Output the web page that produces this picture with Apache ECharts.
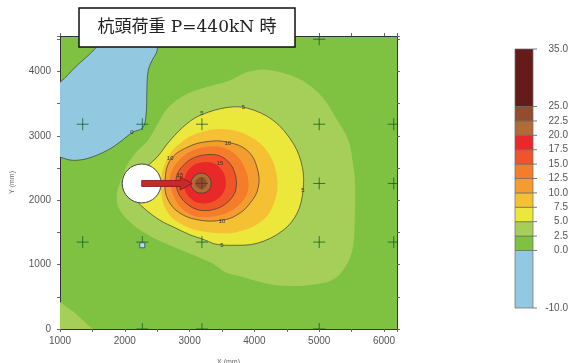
<!DOCTYPE html>
<html>
<head>
<meta charset="utf-8">
<script src="https://cdn.jsdelivr.net/npm/echarts@6/dist/echarts.min.js"></script>
<style>
  html, body { margin: 0; padding: 0; background: #fff; }
  #chart { width: 571px; height: 363px; }
</style>
</head>
<body>
<div id="chart"></div>
<script>
// contour levels and the colour of each band between them
const levels = [-10, 0, 2.5, 5, 7.5, 10, 12.5, 15, 17.5, 20, 22.5, 25, 35];
const bandColors = ['#93c9e0', '#7fc241', '#a5cf59', '#ece83b', '#f6c034', '#f59c31',
  '#f47d2c', '#f05529', '#e9282a', '#b26a37', '#934c2e', '#661b1b'];

// contour outlines, in mm (X, Y)
const contourBlue = [[1000,3830],[1250,4080],[1490,4300],[1640,4480],[1700,4650],[2480,4650],[2500,4330],
  [2420,4170],[2360,4010],[2340,3700],[2330,3350],[2280,3130],[2110,3050],[1960,2930],[1740,2780],
  [1430,2650],[1190,2620],[1000,2670],[900,2700],[900,3800]];
const contourCorner = [[900,-100],[900,470],[1000,420],[1230,250],[1500,0],[1600,-100]];
const contour2p5 = [[3620,3860],[3860,3980],[4120,4030],[4430,3980],[4740,3860],[5050,3600],[5250,3290],
  [5450,2930],[5520,2570],[5550,2310],[5550,1800],[5520,1270],[5400,960],[5200,760],[4830,680],
  [4470,670],[4170,710],[3810,810],[3550,880],[3350,1020],[2980,1180],[2620,1330],[2310,1490],
  [2050,1690],[1900,1890],[1880,2110],[1940,2310],[2050,2570],[2200,2770],[2360,2930],[2510,3190],
  [2670,3440],[2980,3660],[3350,3780]];
const contour5 = [[2200,2000],[2280,1890],[2540,1690],[2780,1570],[3010,1460],[3160,1410],[3290,1360],
  [3390,1320],[3620,1300],[4040,1330],[4440,1530],[4660,1800],[4750,2150],[4740,2510],[4600,2880],
  [4290,3240],[3890,3430],[3580,3440],[3190,3330],[2960,3190],[2700,2930],[2500,2670],[2360,2540],
  [2240,2390]];
const contour7p5 = [[2560,2230],[2640,2620],[2850,2880],[3160,3050],[3550,3100],[3930,2990],[4210,2740],
  [4350,2340],[4300,1950],[4090,1660],[3700,1500],[3320,1500],[2930,1600],[2650,1830]];
const contour10 = [[2620,2260],[2700,2620],[2960,2820],[3270,2910],[3590,2900],[3890,2770],[4040,2510],
  [4060,2200],[3930,1950],[3730,1770],[3500,1690],[3160,1690],[2850,1800],[2670,2000]];
const contour12p5 = [[2700,2260],[2810,2590],[3160,2810],[3620,2770],[3890,2390],[3830,2000],[3390,1750],[2930,1830]];
const contour15 = [[2790,2260],[2900,2540],[3210,2700],[3550,2640],[3720,2310],[3620,2000],[3270,1840],[2950,1950]];
const contour17p5 = [[2910,2260],[3010,2500],[3210,2590],[3440,2530],[3560,2280],[3470,2050],[3220,1950],[3010,2030]];
const contour20 = [[3020,2260],[3070,2370],[3180,2420],[3290,2370],[3330,2260],[3290,2150],[3180,2110],[3070,2150]];
const contour22p5 = [[3080,2260],[3120,2330],[3180,2360],[3240,2330],[3270,2260],[3240,2200],[3180,2170],[3120,2200]];

// measuring points, loading block and arrow
const gaugePoints = [[1350,3180],[2270,3180],[3190,3180],[5000,3180],[6150,3180],
  [3190,2260],[5000,2260],[6150,2260],
  [1350,1350],[2270,1350],[3190,1350],[5000,1350],[6150,1350],
  [2270,0],[3190,0],[5000,0],[5000,4500]];
const brokenPoints = [[2270,1300]];
const jackCircle = [2260, 2260, 300];
const arrowFrom = [2260, 2260];
const arrowTo = [3040, 2260];

// labels written on the contour lines
const labelPos = [[2110,3050],[3190,3350],[3830,3440],[4750,2150],[3500,1300],
  [3590,2880],[2700,2650],[3500,1670],[3470,2570],[2850,2390]];
const labelText = ['0','5','5','5','5','10','10','10','15','15'];

// fill order: outer bands first
const regions = [
  { pts: contourCorner, band: 2, line: false, smooth: 0 },
  { pts: contourBlue, band: 0, line: true, smooth: 0.35 },
  { pts: contour2p5, band: 2, line: false, smooth: 0.35 },
  { pts: contour5, band: 3, line: true, smooth: 0.35 },
  { pts: contour7p5, band: 4, line: false, smooth: 0.4 },
  { pts: contour10, band: 5, line: true, smooth: 0.4 },
  { pts: contour12p5, band: 6, line: false, smooth: 0.4 },
  { pts: contour15, band: 7, line: true, smooth: 0.4 },
  { pts: contour17p5, band: 8, line: false, smooth: 0.4 },
  { pts: contour20, band: 9, line: true, smooth: 0.4 },
  { pts: contour22p5, band: 10, line: false, smooth: 0.4 }
];

// colour bar: end bands are drawn 4 slots tall
const bandSlots = [4, 1, 1, 1, 1, 1, 1, 1, 1, 1, 1, 4];
const cbEdges = [0];
bandSlots.forEach(s => cbEdges.push(cbEdges[cbEdges.length - 1] + s));

const font = 'Liberation Sans, Arial, sans-serif';
const chart = echarts.init(document.getElementById('chart'));

function clipRect(params) {
  const cs = params.coordSys;
  return { type: 'rect', shape: { x: cs.x, y: cs.y, width: cs.width, height: cs.height } };
}

function renderFill(params, api) {
  const r = regions[params.dataIndex];
  return {
    type: 'polygon',
    shape: { points: r.pts.map(p => api.coord(p)), smooth: r.smooth },
    style: { fill: bandColors[r.band], stroke: null },
    clipPath: clipRect(params)
  };
}

function renderLine(params, api) {
  const r = regions[params.dataIndex];
  if (!r.line) return null;
  return {
    type: 'polygon',
    shape: { points: r.pts.map(p => api.coord(p)), smooth: r.smooth },
    style: { fill: null, stroke: 'rgba(55,55,55,0.85)', lineWidth: 0.8 },
    clipPath: clipRect(params)
  };
}

// plus marks, clipped at the plot frame
function renderPlus(params, api) {
  const p = api.coord(gaugePoints[params.dataIndex]);
  const s = 6;
  const st = { stroke: 'rgba(10,90,40,0.75)', lineWidth: 1 };
  return {
    type: 'group',
    clipPath: clipRect(params),
    children: [
      { type: 'line', shape: { x1: p[0] - s, y1: p[1], x2: p[0] + s, y2: p[1] }, style: st },
      { type: 'line', shape: { x1: p[0], y1: p[1] - s, x2: p[0], y2: p[1] + s }, style: st }
    ]
  };
}

// small square for the point without reading
function renderBroken(params, api) {
  const p = api.coord(brokenPoints[params.dataIndex]);
  return {
    type: 'rect',
    shape: { x: p[0] - 2.5, y: p[1] - 2.5, width: 5, height: 5 },
    style: { fill: '#b8e0f2', stroke: '#4a5a78', lineWidth: 1 }
  };
}

function renderJack(params, api) {
  const c = api.coord([jackCircle[0], jackCircle[1]]);
  const r = api.size([jackCircle[2], 0])[0];
  const a = api.coord(arrowFrom), b = api.coord(arrowTo);
  const hw = 3, headLen = 12, headHw = 6.5;
  const bx = b[0] - headLen;
  return {
    type: 'group',
    children: [
      { type: 'circle', shape: { cx: c[0], cy: c[1], r: r },
        style: { fill: '#fff', stroke: '#444', lineWidth: 1 } },
      { type: 'polygon',
        shape: { points: [[a[0], a[1] - hw], [bx, a[1] - hw], [bx, b[1] - headHw], [b[0], b[1]],
          [bx, b[1] + headHw], [bx, a[1] + hw], [a[0], a[1] + hw]] },
        style: { fill: '#c62a2a', stroke: '#7d1818', lineWidth: 0.8 } }
    ]
  };
}

function renderLabel(params, api) {
  const p = api.coord(labelPos[params.dataIndex]);
  return {
    type: 'text', x: p[0], y: p[1],
    style: { text: labelText[params.dataIndex], fontSize: 6, fontFamily: font,
      fill: '#333', align: 'center', verticalAlign: 'middle' }
  };
}

// colour bar band, with its lower tick and level label
function renderBar(params, api) {
  const i = params.dataIndex;
  const p0 = api.coord([0, cbEdges[i]]);
  const p1 = api.coord([1, cbEdges[i + 1]]);
  const children = [
    { type: 'rect',
      shape: { x: p0[0], y: p1[1], width: p1[0] - p0[0], height: p0[1] - p1[1] },
      style: { fill: bandColors[i], stroke: '#6a6a6a', lineWidth: 0.7 } }
  ];
  const edges = i === bandColors.length - 1 ? [i, i + 1] : [i];
  edges.forEach(k => {
    const e = api.coord([1, cbEdges[k]]);
    children.push({ type: 'line', shape: { x1: e[0], y1: e[1], x2: e[0] + 4, y2: e[1] },
      style: { stroke: '#777', lineWidth: 1 } });
    children.push({ type: 'text', x: e[0] + 35, y: e[1],
      style: { text: levels[k].toFixed(1), fontSize: 10, fontFamily: font, fill: '#555',
        align: 'right', verticalAlign: 'middle' } });
  });
  return { type: 'group', children: children };
}

const axisCommon = {
  type: 'value',
  interval: 500,
  splitLine: { show: false },
  axisLine: { onZero: false, lineStyle: { color: '#333', width: 1 } },
  axisTick: { inside: false, length: 3, lineStyle: { color: '#666' } }
};
const tickLabel = v => (v % 1000 === 0 ? String(v) : '');

chart.setOption({
  animation: false,
  backgroundColor: '#fff',
  grid: [
    { left: 60, top: 36, width: 337, height: 293, show: true, outerBoundsMode: 'none',
      containLabel: false, backgroundColor: bandColors[1], borderWidth: 0 },
    { left: 515, top: 49, width: 18, height: 259, outerBoundsMode: 'none', containLabel: false }
  ],
  xAxis: [
    Object.assign({}, axisCommon, { gridIndex: 0, position: 'bottom', min: 1000, max: 6200,
      axisLabel: { formatter: tickLabel, fontSize: 10, color: '#555', fontFamily: font, margin: 7 },
      name: 'X (mm)', nameLocation: 'middle', nameGap: 30,
      nameTextStyle: { fontSize: 7, color: '#666', fontFamily: font } }),
    Object.assign({}, axisCommon, { gridIndex: 0, position: 'top', min: 1000, max: 6200,
      axisLabel: { show: false } }),
    { gridIndex: 1, type: 'value', min: 0, max: 1, show: false }
  ],
  yAxis: [
    Object.assign({}, axisCommon, { gridIndex: 0, position: 'left', min: 0, max: 4550,
      axisLabel: { formatter: tickLabel, fontSize: 10, color: '#555', fontFamily: font, margin: 9 },
      name: 'Y (mm)', nameLocation: 'middle', nameRotate: 90, nameGap: 44,
      nameTextStyle: { fontSize: 7, color: '#666', fontFamily: font } }),
    Object.assign({}, axisCommon, { gridIndex: 0, position: 'right', min: 0, max: 4550,
      axisLabel: { show: false } }),
    { gridIndex: 1, type: 'value', min: 0, max: cbEdges[cbEdges.length - 1], show: false }
  ],
  series: [
    { type: 'custom', xAxisIndex: 0, yAxisIndex: 0, renderItem: renderFill, z: 1,
      data: regions.map(r => r.pts[0]), silent: true },
    { type: 'custom', xAxisIndex: 0, yAxisIndex: 0, renderItem: renderLine, z: 2,
      data: regions.map(r => r.pts[0]), silent: true },
    { type: 'custom', xAxisIndex: 0, yAxisIndex: 0, renderItem: renderLabel, z: 3,
      data: labelPos, silent: true },
    { type: 'custom', xAxisIndex: 0, yAxisIndex: 0, renderItem: renderPlus, z: 4,
      data: gaugePoints, silent: true },
    { type: 'custom', xAxisIndex: 0, yAxisIndex: 0, renderItem: renderJack, z: 5,
      data: [arrowFrom], silent: true },
    { type: 'custom', xAxisIndex: 0, yAxisIndex: 0, renderItem: renderBroken, z: 6,
      data: brokenPoints, silent: true },
    { type: 'custom', xAxisIndex: 2, yAxisIndex: 2, renderItem: renderBar,
      data: bandColors.map((c, i) => [0.5, cbEdges[i]]), silent: true }
  ],
  graphic: [
    { type: 'rect', z: 100, shape: { x: 79, y: 8, width: 216, height: 39 },
      style: { fill: '#fff', stroke: '#111', lineWidth: 1.5 } },
    { type: 'text', z: 101, x: 187, y: 28,
      style: { text: '杭頭荷重 P=440kN 時', fontSize: 17,
        fontFamily: '"DejaVu Serif", "Liberation Serif", "Noto Sans CJK JP", serif',
        fill: '#222', align: 'center', verticalAlign: 'middle' } }
  ]
});
</script>
</body>
</html>
